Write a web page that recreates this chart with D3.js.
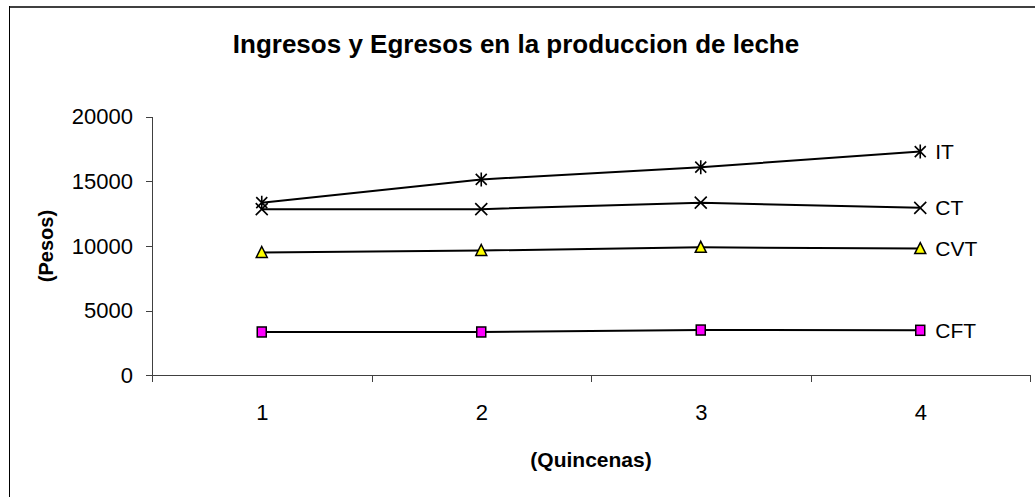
<!DOCTYPE html>
<html>
<head>
<meta charset="utf-8">
<script src="https://cdn.jsdelivr.net/npm/d3@7"></script>
<style>
  body { margin: 0; background: #fff; }
  svg { display: block; font-family: 'Liberation Sans', Arial, sans-serif; }
  .axis path, .axis line { stroke: #404040; stroke-width: 1; shape-rendering: crispEdges; }
  .axis text { fill: #000; font-size: 22px; font-family: 'Liberation Sans', Arial, sans-serif; }
</style>
</head>
<body>
<svg id="chart" width="1035" height="497"></svg>
<script>
// quincenas
var quincenas = [1, 2, 3, 4]
var yTicks = [0, 5000, 10000, 15000, 20000]

// pesos per series
var it = [13350, 15150, 16100, 17300]
var ct = [12850, 12850, 13350, 12950]
var cvt = [9500, 9650, 9900, 9800]
var cft = [3350, 3350, 3500, 3480]

var series = [
  { name: 'IT', values: it, marker: 'star' },
  { name: 'CT', values: ct, marker: 'cross' },
  { name: 'CVT', values: cvt, marker: 'triangle' },
  { name: 'CFT', values: cft, marker: 'square' }
]

var svg = d3.select('#chart')

// chart border (right and bottom fall outside the picture)
svg.append('line').attr('x1', 9).attr('x2', 1035).attr('y1', 7).attr('y2', 7)
  .attr('stroke', '#404040').attr('stroke-width', 2)
svg.append('line').attr('x1', 9.5).attr('x2', 9.5).attr('y1', 6).attr('y2', 497)
  .attr('stroke', '#000').attr('stroke-width', 1)

// plot area edges
var plotLeft = 152, plotRight = 1030, plotTop = 116.7, plotBottom = 375.3

var x = d3.scaleLinear().domain([0.5, 4.5]).range([plotLeft, plotRight])
var y = d3.scaleLinear().domain([0, 20000]).range([plotBottom, plotTop])

// y axis
svg.append('g')
  .attr('class', 'axis')
  .attr('transform', 'translate(' + plotLeft + ',0)')
  .call(d3.axisLeft(y).tickValues(yTicks).tickSize(6).tickPadding(13).tickFormat(d3.format('d')))

// x axis with ticks between categories
svg.append('g')
  .attr('class', 'axis')
  .attr('transform', 'translate(0,' + plotBottom + ')')
  .call(d3.axisBottom(x).tickValues([0.5, 1.5, 2.5, 3.5, 4.5]).tickSize(7).tickSizeOuter(0).tickFormat(''))

// category labels
var xl = svg.append('g')
  .attr('class', 'axis')
  .attr('transform', 'translate(0,' + (plotBottom + 26) + ')')
  .call(d3.axisBottom(x).tickValues(quincenas).tickSize(0).tickFormat(d3.format('d')))
xl.select('.domain').remove()

// lines
var line = d3.line()
  .x(function(d, i) { return x(quincenas[i]) })
  .y(function(d) { return y(d) })

series.forEach(function(s) {
  svg.append('path')
    .attr('d', line(s.values))
    .attr('fill', 'none')
    .attr('stroke', '#000')
    .attr('stroke-width', 2)
})

// markers
series.forEach(function(s) {
  var g = svg.append('g')
  s.values.forEach(function(v, i) {
    var cx = x(quincenas[i]), cy = y(v)
    if (s.marker == 'star') {
      g.append('path')
        .attr('d', 'M' + (cx - 5.5) + ',' + (cy - 5.5) + 'L' + (cx + 5.5) + ',' + (cy + 5.5) +
          'M' + (cx - 5.5) + ',' + (cy + 5.5) + 'L' + (cx + 5.5) + ',' + (cy - 5.5) +
          'M' + cx + ',' + (cy - 7) + 'L' + cx + ',' + (cy + 7))
        .attr('stroke', '#000').attr('stroke-width', 1.6)
    } else if (s.marker == 'cross') {
      g.append('path')
        .attr('d', 'M' + (cx - 6) + ',' + (cy - 6) + 'L' + (cx + 6) + ',' + (cy + 6) +
          'M' + (cx - 6) + ',' + (cy + 6) + 'L' + (cx + 6) + ',' + (cy - 6))
        .attr('stroke', '#000').attr('stroke-width', 1.6)
    } else if (s.marker == 'triangle') {
      g.append('path')
        .attr('d', 'M' + cx + ',' + (cy - 6) + 'L' + (cx + 5.5) + ',' + (cy + 5) + 'L' + (cx - 5.5) + ',' + (cy + 5) + 'Z')
        .attr('fill', '#ffff00').attr('stroke', '#000').attr('stroke-width', 1.5)
    } else {
      g.append('rect')
        .attr('x', cx - 4.5).attr('y', cy - 5).attr('width', 9).attr('height', 10)
        .attr('fill', '#ff00ff').attr('stroke', '#000').attr('stroke-width', 1.5)
    }
  })
  // series label
  svg.append('text')
    .attr('x', x(quincenas[3]) + 15)
    .attr('y', y(s.values[3]))
    .attr('dy', '0.35em')
    .attr('font-size', 21)
    .text(s.name)
})

// titles
svg.append('text')
  .attr('x', 516).attr('y', 53)
  .attr('text-anchor', 'middle')
  .attr('font-size', 26).attr('font-weight', 'bold')
  .text('Ingresos y Egresos en la produccion de leche')

svg.append('text')
  .attr('x', (plotLeft + plotRight) / 2).attr('y', 467)
  .attr('text-anchor', 'middle')
  .attr('font-size', 21).attr('font-weight', 'bold')
  .text('(Quincenas)')

svg.append('text')
  .attr('transform', 'translate(53,' + (plotTop + plotBottom) / 2 + ') rotate(-90)')
  .attr('text-anchor', 'middle')
  .attr('font-size', 20).attr('font-weight', 'bold')
  .text('(Pesos)')
</script>
</body>
</html>
